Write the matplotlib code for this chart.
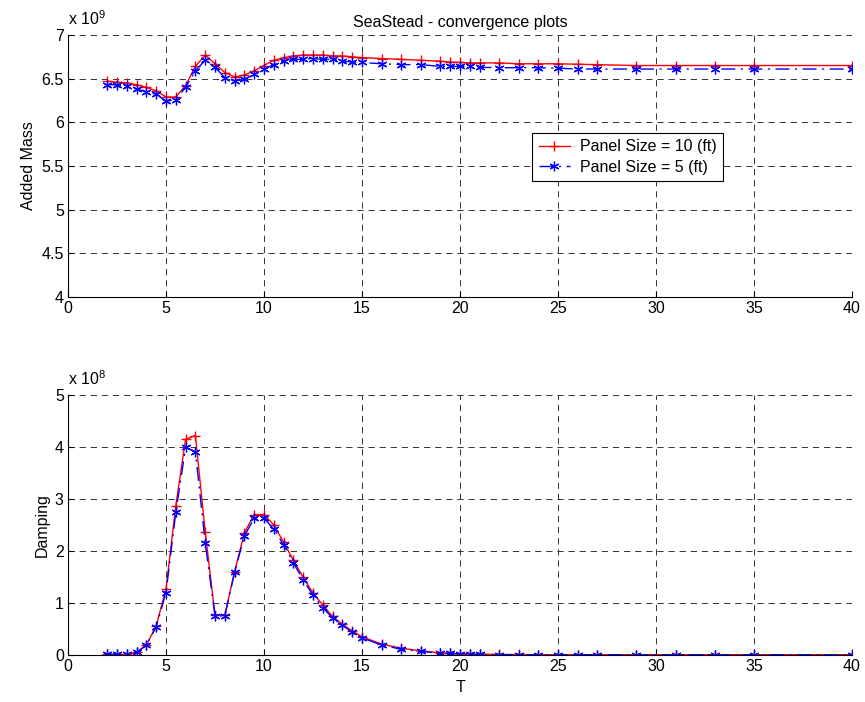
import matplotlib
matplotlib.use("Agg")
import matplotlib.pyplot as plt
from matplotlib.ticker import FormatStrFormatter

plt.rcParams["font.family"] = ["Liberation Sans", "DejaVu Sans"]
plt.rcParams["font.size"] = 11.5
plt.rcParams["mathtext.default"] = "regular"
plt.rcParams["lines.scale_dashes"] = False

# wave period T
T = [2, 2.5, 3, 3.5, 4, 4.5, 5, 5.5, 6, 6.5, 7, 7.5, 8, 8.5, 9, 9.5, 10, 10.5,
     11, 11.5, 12, 12.5, 13, 13.5, 14, 14.5, 15, 16, 17, 18, 19, 19.5, 20, 20.5,
     21, 22, 23, 24, 25, 26, 27, 29, 31, 33, 35, 40]

# added mass, x 1e9
mass_10ft = [6.47, 6.46, 6.45, 6.43, 6.40, 6.36, 6.29, 6.29, 6.42, 6.64, 6.77, 6.67,
             6.57, 6.52, 6.54, 6.59, 6.65, 6.71, 6.74, 6.76, 6.77, 6.77, 6.77, 6.76,
             6.76, 6.75, 6.74, 6.73, 6.72, 6.71, 6.70, 6.69, 6.685, 6.68, 6.68, 6.68,
             6.67, 6.67, 6.67, 6.665, 6.66, 6.65, 6.65, 6.65, 6.65, 6.65]
mass_5ft = [6.43, 6.43, 6.41, 6.38, 6.35, 6.32, 6.24, 6.26, 6.40, 6.59, 6.71, 6.63,
            6.51, 6.47, 6.49, 6.55, 6.61, 6.66, 6.70, 6.72, 6.72, 6.73, 6.72, 6.72,
            6.70, 6.69, 6.685, 6.67, 6.66, 6.66, 6.64, 6.64, 6.64, 6.64, 6.63, 6.625,
            6.625, 6.625, 6.62, 6.61, 6.61, 6.61, 6.61, 6.61, 6.61, 6.61]

# damping, x 1e8
damp_10ft = [0.01, 0.01, 0.01, 0.05, 0.19, 0.56, 1.27, 2.87, 4.15, 4.22, 2.37, 0.77,
             0.77, 1.60, 2.35, 2.70, 2.70, 2.50, 2.17, 1.82, 1.49, 1.19, 0.96, 0.74,
             0.59, 0.46, 0.35, 0.21, 0.13, 0.08, 0.04, 0.03, 0.025, 0.02, 0.015, 0.01,
             0.01, 0.005, 0.005, 0.005, 0.005, 0.005, 0.005, 0.005, 0.005, 0.005]
damp_5ft = [0.01, 0.01, 0.01, 0.05, 0.19, 0.54, 1.20, 2.74, 3.99, 3.91, 2.16, 0.75,
            0.75, 1.59, 2.29, 2.63, 2.63, 2.42, 2.12, 1.77, 1.44, 1.15, 0.91, 0.71,
            0.57, 0.44, 0.33, 0.19, 0.11, 0.07, 0.03, 0.03, 0.02, 0.01, 0.01, 0.005,
            0.005, 0.005, 0.005, 0.005, 0.005, 0.005, 0.005, 0.005, 0.005, 0.005]

labels = ["Panel Size = 10 (ft)", "Panel Size = 5 (ft)"]

fig = plt.figure(figsize=(8.65, 7.02), dpi=100)
ax1 = fig.add_axes([0.0786, 0.577, 0.9064, 0.3732])
ax2 = fig.add_axes([0.0786, 0.067, 0.9064, 0.3704])


def style_axes(ax, ylim, yticks, exponent):
    ax.set_xlim(0, 40)
    ax.set_ylim(*ylim)
    ax.set_xticks(range(0, 41, 5))
    ax.set_yticks(yticks)
    ax.yaxis.set_major_formatter(FormatStrFormatter("%g"))
    ax.grid(True, color="0.2", linestyle=(0, (4.5, 3.5)), linewidth=0.7)
    ax.spines["top"].set_visible(False)
    ax.spines["right"].set_visible(False)
    ax.spines["left"].set_linewidth(0.8)
    ax.spines["bottom"].set_linewidth(0.8)
    ax.tick_params(direction="in", length=4, width=0.8, pad=3)
    ax.text(0.0, 1.025, "x 10$^{%d}$" % exponent, transform=ax.transAxes,
            ha="left", va="bottom")


# matlab style asterisk marker
asterisk = (6, 2, 0)

for ax, d10, d5 in [(ax1, mass_10ft, mass_5ft), (ax2, damp_10ft, damp_5ft)]:
    ax.plot(T, d10, color="red", linestyle="-", linewidth=1.0, marker="+",
            markersize=7, markeredgewidth=1.0, label=labels[0])
    ax.plot(T, d5, color="blue", linestyle=(0, (10, 4, 1.5, 4)), linewidth=1.0,
            marker=asterisk, markersize=7, markeredgewidth=0.9, label=labels[1])

style_axes(ax1, (4, 7), [4, 4.5, 5, 5.5, 6, 6.5, 7], 9)
style_axes(ax2, (0, 5), [0, 1, 2, 3, 4, 5], 8)

ax1.set_ylabel("Added Mass")
ax2.set_ylabel("Damping")
ax2.set_xlabel("T")
ax1.set_title("SeaStead - convergence plots", fontsize=11.5, pad=6)

leg = ax1.legend(loc="upper left", bbox_to_anchor=(0.592, 0.626), frameon=True,
                 fancybox=False, framealpha=1, edgecolor="black",
                 handlelength=2.0, handletextpad=0.6, borderpad=0.4,
                 labelspacing=0.35, borderaxespad=0)
leg.get_frame().set_linewidth(0.8)

fig.savefig("out.png", dpi=100)
